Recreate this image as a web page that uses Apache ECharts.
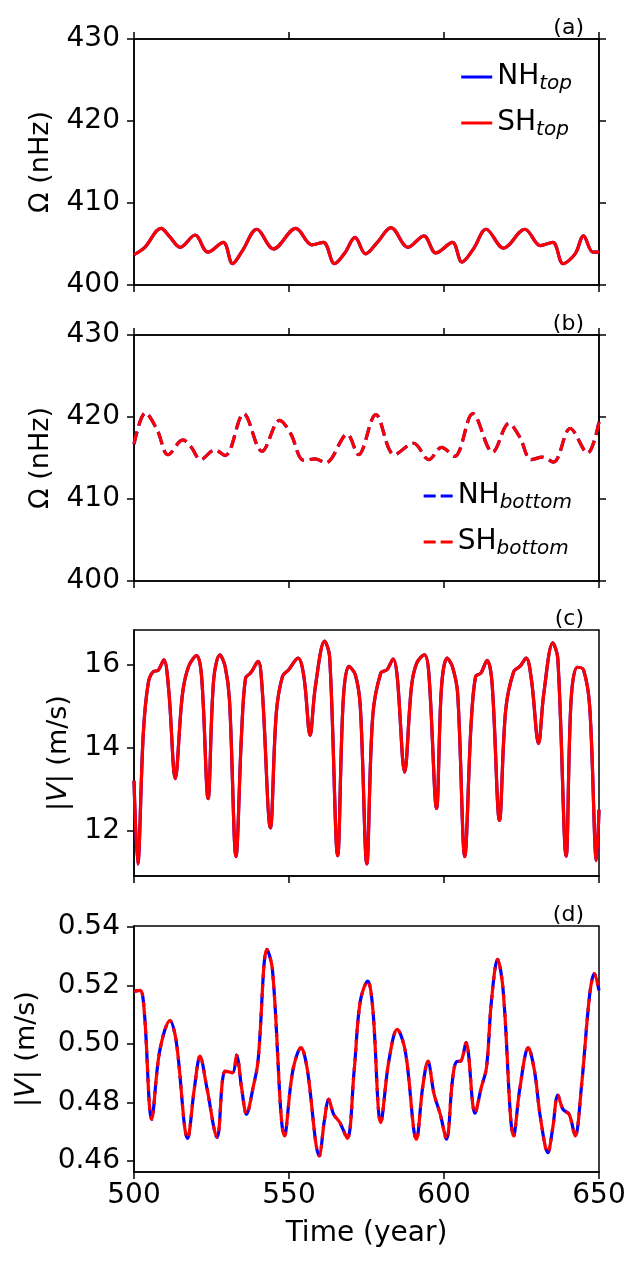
<!DOCTYPE html>
<html>
<head>
<meta charset="utf-8">
<script src="https://cdn.jsdelivr.net/npm/echarts@6/dist/echarts.min.js"></script>
<style>
  html, body { margin: 0; padding: 0; background: #fff; }
  #chart { width: 642px; height: 1267px; }
</style>
</head>
<body>
<div id="chart"></div>
<script>
// panel (a): rotation rate at the top, NH and SH overlap
var topYears = [500, 503.5, 508.7, 511.5, 514.9, 519.7, 523.8, 528.8, 531.8, 535, 539.6, 545.0, 552.2, 557.4, 561.1, 564.7, 568, 571.3, 574.7, 578.5, 582.9, 588.4, 593.5, 597.4, 602.7, 605.8, 609.5, 613.6, 619.2, 626.1, 631.1, 635.1, 638.4, 642.3, 645.0, 648.0, 650];
var topOmega = [403.7, 404.6, 406.9, 405.9, 404.6, 406.1, 404.0, 405.2, 402.6, 404.2, 406.8, 404.4, 406.9, 404.9, 405.2, 402.6, 403.9, 405.8, 403.8, 405.2, 407.0, 404.6, 406.0, 403.9, 405.2, 402.8, 404.4, 406.8, 404.5, 406.8, 404.8, 405.2, 402.6, 403.8, 406.0, 404.0, 404.0];

// panel (b): rotation rate at the bottom
var bottomYears = [500, 503.7, 507.5, 511.0, 515.8, 518.5, 521.5, 526.1, 529.4, 535.4, 541.3, 547.0, 550.5, 554.8, 558.5, 561.8, 568.8, 572.4, 578.0, 584.0, 590.2, 595.1, 599.2, 603.4, 609.3, 615.7, 620.9, 624.5, 628.1, 631.8, 635.3, 640.7, 646.3, 650];
var bottomOmega = [416.7, 420.5, 418.4, 415.4, 417.2, 416.3, 414.8, 416.0, 415.3, 420.4, 415.8, 419.6, 418.0, 414.7, 414.9, 414.4, 417.9, 415.4, 420.3, 415.4, 416.8, 414.8, 416.3, 415.2, 420.4, 415.7, 419.2, 417.5, 414.8, 415.1, 414.5, 418.6, 415.6, 419.4];

// panel (c): flow speed at the top
var speedTopYears = [500, 501.2, 503.0, 504.6, 506.3, 507.7, 509.6, 511.2, 513.3, 515.6, 517.6, 520.2, 521.8, 523.9, 525.7, 527.7, 529.4, 530.8, 532.9, 534.7, 536.0, 537.6, 540.0, 541.3, 544.0, 545.9, 547.9, 549.9, 552.9, 554.8, 556.8, 558.5, 561.5, 563.1, 565.7, 567.5, 569.3, 571.4, 573.0, 575.1, 577.0, 579.6, 581.6, 583.6, 584.9, 587.3, 589.5, 591.2, 593.7, 595.1, 597.6, 599.2, 601.0, 602.7, 604.4, 606.7, 608.7, 610.2, 611.9, 613.9, 615.5, 617.9, 619.9, 622.5, 624.5, 626.5, 628.2, 630.5, 632.2, 635.1, 636.7, 639.4, 641.0, 643.0, 645.0, 647.0, 649.2, 650];
var speedTop = [13.2, 11.19, 14.34, 15.56, 15.84, 15.86, 16.12, 15.39, 13.25, 15.27, 15.96, 16.22, 15.72, 12.77, 15.64, 16.24, 15.96, 15.15, 11.37, 14.34, 15.68, 15.80, 16.08, 15.47, 12.06, 14.83, 15.72, 15.88, 16.16, 15.72, 14.30, 15.47, 16.57, 16.20, 11.39, 15.15, 15.96, 15.76, 14.99, 11.19, 14.75, 15.80, 15.88, 16.14, 15.72, 13.41, 15.47, 16.04, 16.24, 15.80, 12.53, 15.47, 16.16, 15.96, 15.31, 11.37, 14.51, 15.72, 15.80, 16.11, 15.56, 12.24, 14.91, 15.84, 15.96, 16.16, 15.64, 14.10, 15.31, 16.53, 16.16, 11.38, 15.15, 15.94, 15.88, 14.99, 11.27, 12.5];

// panel (d): flow speed at the bottom
var speedBottomYears = [500, 502.0, 503.3, 505.7, 508.3, 511.6, 513.6, 517.3, 519.5, 521.3, 523.5, 526.8, 529.4, 531.8, 533.1, 534.7, 536.3, 538.4, 540.0, 542.9, 544.6, 548.6, 551.2, 553.9, 555.8, 559.8, 561.4, 562.8, 564.4, 566.4, 568.8, 571.0, 573.0, 575.4, 577.0, 579.6, 582.2, 584.9, 587.5, 591.1, 593.1, 594.8, 596.8, 598.8, 600.8, 602.7, 604.0, 605.4, 607.1, 610.0, 612.0, 613.7, 615.3, 617.3, 619.0, 622.5, 624.5, 627.2, 629.2, 631.1, 633.5, 635.1, 636.7, 638.4, 640.4, 642.3, 644.3, 647.0, 648.5, 650];
var speedBottom = [0.5180, 0.5183, 0.5112, 0.4742, 0.4976, 0.5080, 0.5010, 0.4677, 0.4850, 0.4958, 0.4850, 0.4680, 0.4907, 0.4902, 0.4962, 0.4850, 0.4759, 0.4850, 0.4941, 0.5323, 0.5260, 0.4685, 0.4907, 0.4987, 0.4919, 0.4617, 0.4737, 0.4811, 0.4759, 0.4731, 0.4677, 0.4907, 0.5146, 0.5215, 0.5124, 0.4731, 0.4941, 0.5050, 0.4976, 0.4674, 0.4850, 0.4941, 0.4828, 0.4759, 0.4674, 0.4873, 0.4939, 0.4941, 0.5004, 0.4763, 0.4850, 0.4919, 0.5146, 0.5289, 0.5192, 0.4685, 0.4850, 0.4987, 0.4907, 0.4748, 0.4628, 0.4714, 0.4825, 0.4776, 0.4759, 0.4685, 0.4850, 0.5169, 0.5240, 0.5183];

var yearTicks = [500, 550, 600, 650];
var omegaTicks = [400, 410, 420, 430];
var speedTopTicks = [12, 14, 16];
var speedBottomTicks = [0.46, 0.48, 0.50, 0.52, 0.54];

var font = 'DejaVu Sans';
var blue = '#0000ff';
var red = '#ff0000';
var dash = [13, 6];

function pairs(xs, ys) {
    return xs.map(function (x, i) { return [x, ys[i]]; });
}

var panels = [
    { top: 39,  label: '(a)', min: 400, max: 430, ticks: omegaTicks, name: 'Ω (nHz)', gap: 80, digits: 0 },
    { top: 335, label: '(b)', min: 400, max: 430, ticks: omegaTicks, name: 'Ω (nHz)', gap: 80, digits: 0 },
    { top: 630, label: '(c)', min: 10.9, max: 16.84, ticks: speedTopTicks, name: '|{i|V}| (m/s)', gap: 62, digits: 0 },
    { top: 926, label: '(d)', min: 0.4562, max: 0.5403, ticks: speedBottomTicks, name: '|{i|V}| (m/s)', gap: 94, digits: 2 }
];

var axisLineStyle = { color: '#000', width: 1.5 };

var grids = [], xAxes = [], yAxes = [], titles = [];

panels.forEach(function (p, i) {
    grids.push({ left: 134, width: 465, top: p.top, height: 246, show: true, borderColor: '#000', borderWidth: 1.5 });

    xAxes.push({
        gridIndex: i, type: 'value', min: 500, max: 650,
        axisLine: { show: true, onZero: false, lineStyle: axisLineStyle },
        axisTick: { show: true, inside: false, length: 7, customValues: yearTicks, lineStyle: axisLineStyle },
        axisLabel: { show: i === 3, customValues: yearTicks, fontSize: 28, color: '#000', fontFamily: font, margin: 10 },
        splitLine: { show: false },
        name: i === 3 ? 'Time (year)' : '',
        nameLocation: 'middle', nameGap: 48,
        nameTextStyle: { fontSize: 28, color: '#000', fontFamily: font }
    });

    yAxes.push({
        gridIndex: i, type: 'value', min: p.min, max: p.max,
        axisLine: { show: true, onZero: false, lineStyle: axisLineStyle },
        axisTick: { show: true, inside: false, length: 7, customValues: p.ticks, lineStyle: axisLineStyle },
        axisLabel: {
            customValues: p.ticks, fontSize: 28, color: '#000', fontFamily: font, margin: 14,
            formatter: function (v) { return Number(v).toFixed(p.digits); }
        },
        splitLine: { show: false },
        name: p.name, nameLocation: 'middle', nameGap: p.gap,
        nameTextStyle: {
            fontSize: 27, color: '#000', fontFamily: font,
            rich: { i: { fontSize: 27, fontStyle: 'italic', fontFamily: font, color: '#000' } }
        }
    });

    titles.push({
        text: p.label, right: 58, top: p.top - 22, padding: 0,
        textStyle: { fontSize: 22, fontWeight: 'normal', color: '#000', fontFamily: font }
    });
});

// top and right ticks for panels (a) and (b)
[0, 1].forEach(function (i) {
    xAxes.push({
        gridIndex: i, type: 'value', position: 'top', min: 500, max: 650,
        axisLine: { show: true, onZero: false, lineStyle: axisLineStyle },
        axisTick: { show: true, inside: false, length: 7, customValues: yearTicks, lineStyle: axisLineStyle },
        axisLabel: { show: false },
        splitLine: { show: false }
    });
    yAxes.push({
        gridIndex: i, type: 'value', position: 'right', min: 400, max: 430,
        axisLine: { show: true, onZero: false, lineStyle: axisLineStyle },
        axisTick: { show: true, inside: false, length: 7, customValues: omegaTicks, lineStyle: axisLineStyle },
        axisLabel: { show: false },
        splitLine: { show: false }
    });
});

function line(name, idx, xs, ys, color, dashed, offset) {
    return {
        name: name, type: 'line', xAxisIndex: idx, yAxisIndex: idx,
        data: pairs(xs, ys), smooth: 0.35, symbol: 'none', showSymbol: false,
        lineStyle: { color: color, width: 3.2, type: dashed ? dash : 'solid', dashOffset: offset || 0 },
        itemStyle: { color: color },
        animation: false
    };
}

var series = [
    line('NHtop', 0, topYears, topOmega, blue, false),
    line('SHtop', 0, topYears, topOmega, red, false),
    line('NHbottom', 1, bottomYears, bottomOmega, blue, true),
    line('SHbottom', 1, bottomYears, bottomOmega, red, true),
    line('NHc', 2, speedTopYears, speedTop, blue, false),
    line('SHc', 2, speedTopYears, speedTop, red, false),
    line('NHd', 3, speedBottomYears, speedBottom, blue, true, 9),
    line('SHd', 3, speedBottomYears, speedBottom, red, true)
];

var legendNames = {
    NHtop: '{m|NH}{s|top}', SHtop: '{m|SH}{s|top}',
    NHbottom: '{m|NH}{s|bottom}', SHbottom: '{m|SH}{s|bottom}'
};

function legendOf(data, top, width, icon) {
    return {
        data: data, orient: 'vertical', right: 70, top: top, align: 'left',
        icon: icon, itemWidth: width, itemHeight: 3, itemGap: 12, padding: 0,
        formatter: function (n) { return legendNames[n]; },
        textStyle: {
            color: '#000', fontFamily: font,
            rich: {
                m: { fontSize: 28, lineHeight: 28, verticalAlign: 'top', fontFamily: font, color: '#000' },
                s: { fontSize: 20, lineHeight: 20, padding: [14, 0, 0, 0], fontStyle: 'italic', fontFamily: font, color: '#000' }
            }
        }
    };
}

var chart = echarts.init(document.getElementById('chart'));
chart.setOption({
    backgroundColor: '#fff',
    animation: false,
    title: titles,
    legend: [
        legendOf(['NHtop', 'SHtop'], 60, 31, 'rect'),
        legendOf(['NHbottom', 'SHbottom'], 479, 29, 'path://M0,0h12v3h-12zM17,0h12v3h-12z')
    ],
    grid: grids,
    xAxis: xAxes,
    yAxis: yAxes,
    series: series
});
</script>
</body>
</html>
